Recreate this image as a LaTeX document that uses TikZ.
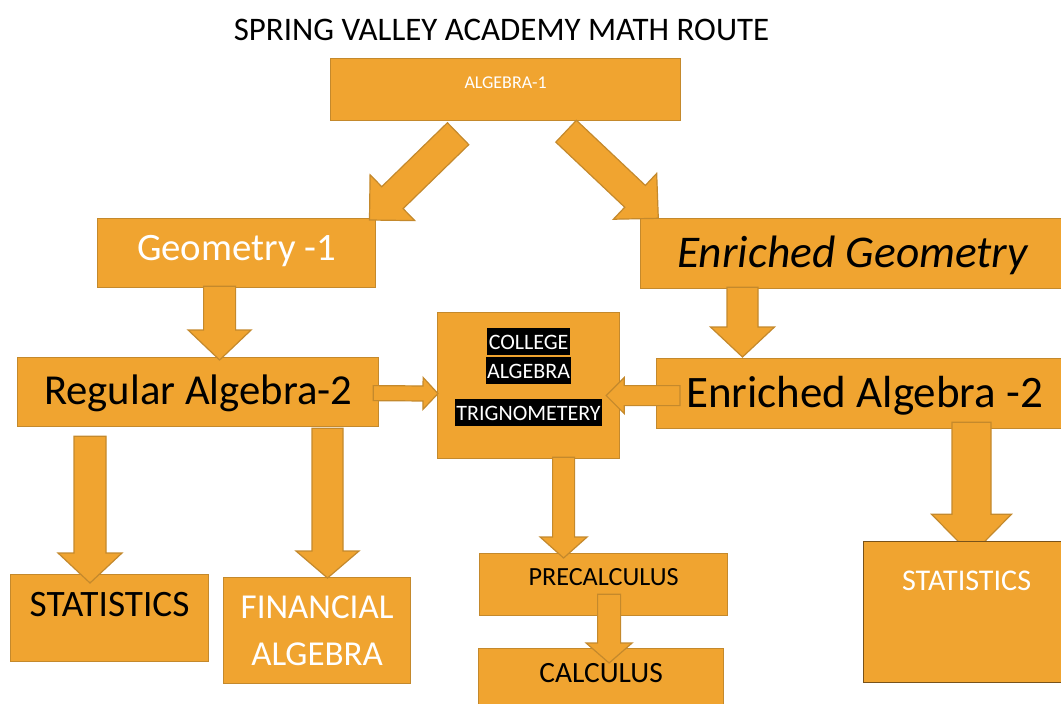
\documentclass[tikz,border=0pt]{standalone}
\usepackage{fontspec}
\setmainfont{Carlito}
\usepackage{xcolor}
\usepackage{tikz}
\usetikzlibrary{calc}

\definecolor{boxfill}{RGB}{240,164,48}
\definecolor{boxline}{RGB}{196,137,44}
\definecolor{darkline}{RGB}{120,82,26}

\setlength{\fboxsep}{0pt}
\newcommand{\hl}[1]{\colorbox{black}{\rule[-5.7pt]{0pt}{27pt}\hspace{1.5pt}\textcolor{white}{#1}\hspace{1.5pt}}}

% tail, tip, half shaft, half head, head length
\newcommand{\blockarrow}[5]{%
	\coordinate (bh) at ($(#2)!#5pt!(#1)$);
	\draw[arrowpart] ($(#1)!#3pt!90:(#2)$) -- ($(bh)!#3pt!90:(#2)$) -- ($(bh)!#4pt!90:(#2)$) -- (#2)
		-- ($(bh)!#4pt!-90:(#2)$) -- ($(bh)!#3pt!-90:(#2)$) -- ($(#1)!#3pt!-90:(#2)$) -- cycle;
}

\begin{document}
\begin{tikzpicture}[x=1pt, y=-1pt,
		box/.style={draw=boxline, fill=boxfill, line width=1.2pt, inner sep=0pt, anchor=north west},
		arrowpart/.style={draw=boxline, fill=boxfill, line width=1.2pt}]
		\useasboundingbox (0,0) rectangle (1061,704);
		
		\node[inner sep=0pt, text height=20.8pt, text depth=0pt, font=\fontsize{32.9}{39}\selectfont] (title) at (501.5,30) {SPRING VALLEY ACADEMY MATH ROUTE};
		
		\node[box, minimum width=350pt, minimum height=62pt, text height=11.4pt, text depth=13pt, text=white, font=\fontsize{18}{22}\selectfont] (alg1) at (330,58) {ALGEBRA-1};
		\node[box, minimum width=278pt, minimum height=69pt, text height=24.5pt, text depth=9pt, text=white, font=\fontsize{38.8}{46}\selectfont] (geo1) at (97,218) {Geometry -1};
		\node[box, minimum width=424pt, minimum height=70pt, text height=28.7pt, text depth=0pt, font=\fontsize{45.4}{54}\selectfont\itshape] (engeo) at (640,218) {Enriched Geometry};
		\node[box, minimum width=361pt, minimum height=69pt, text height=27pt, text depth=2pt, font=\fontsize{42.7}{51}\selectfont] (regalg) at (17,357) {Regular Algebra-2};
		\node[box, minimum width=182pt, minimum height=146pt] (college) at (437,312) {};
		\node[inner sep=0pt, anchor=north, align=center, font=\fontsize{22}{29}\selectfont] (colltxt) at ($(college.north)+(0,16)$) {\hl{COLLEGE}\\ \hl{ALGEBRA}\\[13pt] \hl{TRIGNOMETERY}};
		\node[box, minimum width=416pt, minimum height=70pt, text height=28.4pt, text depth=0pt, font=\fontsize{45}{54}\selectfont] (enalg) at (656,358) {Enriched Algebra -2};
		\node[box, minimum width=198pt, minimum height=87pt, text height=23.6pt, text depth=27pt, font=\fontsize{37.3}{45}\selectfont] (stat1) at (10,574) {STATISTICS};
		\node[box, minimum width=187pt, minimum height=106pt, align=center, text=white, font=\fontsize{35}{47}\selectfont] (finalg) at (223,577) {FINANCIAL\\ALGEBRA};
		\node[box, minimum width=248pt, minimum height=62pt, text height=16.6pt, text depth=14pt, font=\fontsize{26.2}{31}\selectfont] (precalc) at (479,553) {PRECALCULUS};
		\node[box, minimum width=245pt, minimum height=62pt, text height=18.6pt, text depth=12pt, font=\fontsize{29.4}{35}\selectfont] (calc) at (478,648) {CALCULUS};
		
		\coordinate (a1s) at ($(alg1.south)+(-47.5,12.5)$);
		\coordinate (a1e) at ($(geo1.north east)+(-6.7,2)$);
		\coordinate (a2s) at ($(alg1.south)+(60.5,10)$);
		\coordinate (a2e) at ($(engeo.north west)+(18.3,0.3)$);
		\coordinate (a3s) at ($(geo1.south)+(-17,-2)$);
		\coordinate (a3e) at ($(regalg.north)+(21.5,3)$);
		\coordinate (a4s) at ($(regalg.east)+(-6,1)$);
		\coordinate (a4e) at ($(college.west)+(1,8)$);
		\coordinate (a5s) at ($(enalg.west)+(24,2)$);
		\coordinate (a5e) at ($(college.east)+(-14,10)$);
		\coordinate (a6s) at ($(engeo.south west)+(102.5,-2)$);
		\coordinate (a6e) at ($(enalg.north west)+(86.5,-1)$);
		\coordinate (a7s) at ($(regalg.south west)+(73,9)$);
		\coordinate (a7e) at ($(stat1.north west)+(80,9)$);
		\coordinate (a8s) at ($(regalg.south west)+(310.5,1)$);
		\coordinate (a8e) at ($(finalg.north west)+(104.5,1)$);
		\coordinate (a9s) at ($(enalg.south west)+(315.5,-7)$);
		\coordinate (a9e) at ($(enalg.south west)+(315.5,125.7)$);
		\coordinate (a10s) at ($(college.south)+(35,-2)$);
		\coordinate (a10e) at ($(precalc.north)+(-40,5)$);
		\coordinate (a11s) at ($(precalc.south)+(5.5,-22)$);
		\coordinate (a11e) at ($(calc.north)+(8,15)$);
		
		\blockarrow{a1s}{a1e}{15.3}{32}{32}
		\blockarrow{a2s}{a2e}{15}{31.5}{32}
		\blockarrow{a3s}{a3e}{16}{31.5}{30}
		\blockarrow{a4s}{a4e}{7.5}{16}{15}
		\blockarrow{a5s}{a5e}{10}{18}{18}
		\blockarrow{a6s}{a6e}{15.5}{32}{30}
		\blockarrow{a7s}{a7e}{16}{32}{30}
		\blockarrow{a8s}{a8e}{15.5}{31.5}{27}
		\blockarrow{a9s}{a9e}{19.5}{40}{40.7}
		\blockarrow{a10s}{a10e}{11}{23.5}{21}
		\blockarrow{a11s}{a11e}{11.5}{23}{20}
		
		\node[box, draw=darkline, minimum width=206pt, minimum height=141pt, text height=19pt, text depth=63pt, text=white, font=\fontsize{30.1}{36}\selectfont] (stat2) at (863,541) {STATISTICS};
	\end{tikzpicture}
\end{document}
